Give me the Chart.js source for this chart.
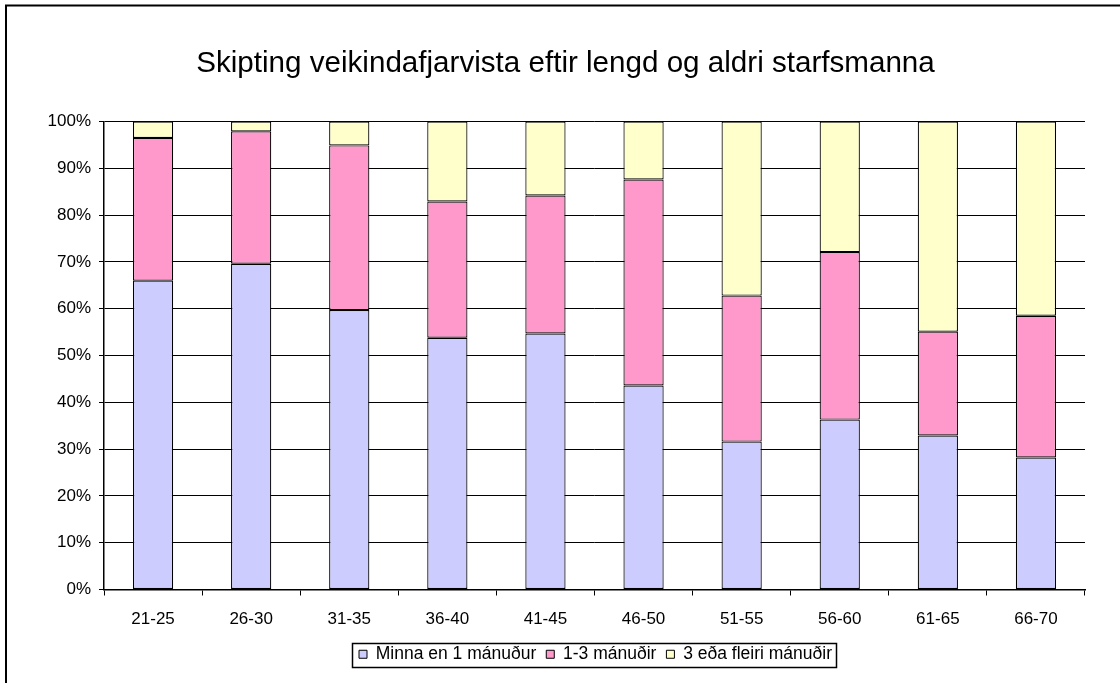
<!DOCTYPE html>
<html>
<head>
<meta charset="utf-8">
<script src="https://cdn.jsdelivr.net/npm/chart.js@4/dist/chart.umd.min.js"></script>
<style>
  html, body { margin: 0; padding: 0; background: #fff; }
  #wrap { width: 1120px; height: 683px; }
</style>
</head>
<body>
<div id="wrap"><canvas id="chart"></canvas></div>
<script>
const titleText = 'Skipting veikindafjarvista eftir lengd og aldri starfsmanna';
const ageGroups = ['21-25', '26-30', '31-35', '36-40', '41-45', '46-50', '51-55', '56-60', '61-65', '66-70'];
const seriesNames = ['Minna en 1 mánuður', '1-3 mánuðir', '3 eða fleiri mánuðir'];
const underOneMonth = [66.0, 69.6, 59.7, 53.8, 54.7, 43.6, 31.6, 36.3, 32.9, 28.2];
const oneToThree = [30.5, 28.3, 35.2, 29.1, 29.5, 44.0, 31.2, 35.8, 22.2, 30.3];
const threeOrMore = [3.5, 2.1, 5.1, 17.1, 15.8, 12.4, 37.2, 27.9, 44.9, 41.5];
const yTicks = [0, 10, 20, 30, 40, 50, 60, 70, 80, 90, 100];

const FONT = "'Liberation Sans', Arial, sans-serif";

// white page + outer frame, and the box round the legend
const framePlugin = {
  id: 'frame',
  afterLayout(chart) {
    // title and legend sit a little right of the plot centre in the original
    chart.titleBlock.left += 23; chart.titleBlock.right += 23;
    chart.legend.left += 53; chart.legend.right += 53;
  },
  beforeDraw(chart) {
    const ctx = chart.ctx;
    ctx.save();
    ctx.fillStyle = '#fff';
    ctx.fillRect(0, 0, chart.width, chart.height);
    ctx.strokeStyle = '#000';
    ctx.lineWidth = 2;
    ctx.strokeRect(6, 5.5, chart.width + 20, chart.height + 20);
    ctx.restore();
  },
  afterDraw(chart) {
    const boxes = chart.legend.legendHitBoxes;
    if (!boxes || !boxes.length) return;
    const first = boxes[0], last = boxes[boxes.length - 1];
    const ctx = chart.ctx;
    ctx.save();
    ctx.strokeStyle = '#000';
    ctx.lineWidth = 1.5;
    const l = first.left - 7, r = last.left + last.width + 4;
    const t = first.top - 3, b = first.top + first.height + 3;
    ctx.strokeRect(Math.round(l) + 0.5, Math.round(t) + 0.5, Math.round(r - l), Math.round(b - t));
    ctx.restore();
  }
};

const bar = (label, data, color) => ({
  label, data,
  backgroundColor: color,
  borderColor: '#000',
  borderWidth: 1.2,
  borderSkipped: false,
  categoryPercentage: 1,
  barPercentage: 0.41
});

new Chart(document.getElementById('chart'), {
  type: 'bar',
  data: {
    labels: ageGroups,
    datasets: [
      bar(seriesNames[0], underOneMonth, '#ccccff'),
      bar(seriesNames[1], oneToThree, '#ff99cc'),
      bar(seriesNames[2], threeOrMore, '#ffffcc')
    ]
  },
  options: {
    responsive: true,
    maintainAspectRatio: false,
    animation: false,
    layout: { padding: { left: 0, right: 35, top: 0, bottom: 10 } },
    plugins: {
      title: {
        display: true, text: titleText, color: '#000',
        font: { family: FONT, size: 29.6, weight: 'normal' },
        padding: { top: 46, bottom: 40 }
      },
      legend: {
        position: 'bottom',
        labels: {
          color: '#000',
          font: { family: FONT, size: 17.5 },
          boxWidth: 8, boxHeight: 8, padding: 10,
          generateLabels(chart) {
            return chart.data.datasets.map((ds, i) => ({
              text: ds.label, fillStyle: ds.backgroundColor, strokeStyle: '#000',
              lineWidth: 1, datasetIndex: i, fontColor: '#000'
            }));
          }
        }
      },
      tooltip: { enabled: false }
    },
    scales: {
      x: {
        stacked: true,
        grid: { display: true, offset: true, drawOnChartArea: false, color: '#000', tickLength: 6, lineWidth: 1 },
        border: { display: true, color: '#000', width: 1.5 },
        ticks: { color: '#000', font: { family: FONT, size: 17 }, padding: 14, maxRotation: 0 },
        afterFit(scale) { scale.height = 46; }
      },
      y: {
        stacked: true, min: 0, max: 100,
        afterBuildTicks(scale) { scale.ticks = yTicks.map(v => ({ value: v })); },
        grid: { color: '#000', lineWidth: 1, tickLength: 5 },
        border: { display: true, color: '#000', width: 1.5 },
        ticks: { color: '#000', font: { family: FONT, size: 17 }, padding: 8, callback: v => v + '%' },
        afterFit(scale) { scale.width = 104; }
      }
    }
  },
  plugins: [framePlugin]
});
</script>
</body>
</html>
